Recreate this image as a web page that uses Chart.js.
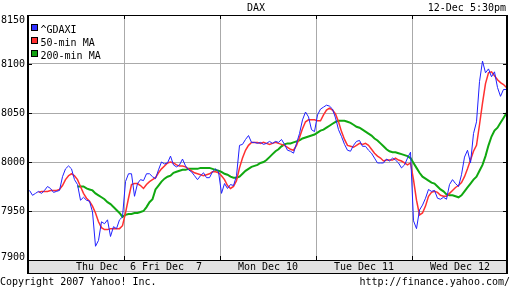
<!DOCTYPE html>
<html><head><meta charset="utf-8">
<script src="https://cdn.jsdelivr.net/npm/chart.js@4.4.0/dist/chart.umd.min.js"></script>
<style>html,body{margin:0;padding:0;background:#fff;}</style>
</head><body>
<canvas id="c" width="512" height="288"></canvas>
<script>
const chartTitle = 'DAX';
const stamp = '12-Dec 5:30pm';
const footLeft = 'Copyright 2007 Yahoo! Inc.';
const footRight = 'http://finance.yahoo.com/';
const seriesNames = ['^GDAXI', '50-min MA', '200-min MA'];
const dayLabels = ['Thu Dec  6', 'Fri Dec  7', 'Mon Dec 10', 'Tue Dec 11', 'Wed Dec 12'];
const dayLabelPos = [25.5, 47.5, 79.5, 111.5, 143.5];
const dayBreaks = [31.5, 63.5, 95.5, 127.5];
const yMin = 7900, yMax = 8150, yStep = 50;

const gdaxi = [
 7971,7966,7968,7970,7968,7971,7975,7973,7969,7970,7971,7985,7993,7996,7993,7982,7977,7961,7964,7961,7960,7949,7914,7920,7939,7937,7941,7924,7934,7932,7941,7944,
 7980,7988,7988,7965,7978,7982,7981,7988,7988,7985,7983,7992,8000,7998,7999,8006,7997,7995,7997,8003,7996,7992,7990,7986,7982,7986,7989,7984,7984,7990,7993,7990,
 7968,7978,7973,7977,7976,7986,8017,8018,8023,8027,8020,8020,8019,8020,8018,8019,8021,8019,8021,8020,8023,8018,8012,8011,8009,8019,8029,8043,8051,8046,8033,8031,
 8048,8054,8056,8058,8057,8054,8045,8033,8026,8018,8012,8011,8017,8021,8022,8016,8016,8012,8009,8004,7999,7999,7999,8003,8001,8004,8002,7999,7994,7997,8004,8010,
 7940,7932,7951,7956,7963,7972,7970,7971,7963,7962,7964,7962,7977,7982,7978,7975,7987,8005,8012,7999,8029,8041,8082,8103,8091,8095,8087,8092,8076,8067,8074,8074
];
const ma50 = [
 null,null,null,7969,7970,7970,7970,7971,7971,7971,7972,7976,7982,7986,7988,7986,7982,7975,7968,7963,7960,7955,7948,7939,7933,7931,7931,7932,7932,7932,7932,7935,
 7948,7963,7977,7978,7978,7976,7973,7977,7980,7982,7984,7989,7993,7996,7999,8000,7999,7997,7996,7996,7995,7993,7991,7989,7988,7987,7986,7987,7988,7990,7990,7989,
 7986,7982,7976,7973,7975,7981,7994,8004,8012,8017,8020,8020,8020,8019,8020,8019,8018,8019,8020,8019,8018,8017,8015,8013,8012,8017,8025,8034,8041,8043,8043,8043,
 8042,8042,8048,8053,8055,8053,8049,8041,8031,8023,8017,8016,8015,8017,8019,8018,8019,8017,8013,8009,8006,8004,8001,8002,8002,8002,8004,8002,8001,7999,7997,7999,
 7982,7961,7946,7948,7955,7965,7969,7970,7969,7966,7965,7965,7968,7971,7974,7976,7979,7985,7993,8002,8011,8017,8038,8060,8080,8091,8092,8088,8084,8081,8079,8076
];
const ma200 = [
 null,null,null,null,null,null,null,null,null,null,null,null,null,null,null,null,7975,7975,7975,7973,7972,7971,7968,7966,7964,7962,7959,7957,7954,7951,7948,7944,
 7946,7947,7947,7948,7948,7949,7950,7954,7959,7962,7972,7976,7980,7983,7985,7986,7989,7990,7991,7992,7992,7993,7993,7993,7993,7994,7994,7994,7994,7993,7992,7991,
 7990,7988,7987,7985,7984,7984,7985,7988,7991,7993,7995,7996,7997,7999,8000,8002,8005,8008,8011,8013,8016,8018,8019,8019,8020,8021,8022,8024,8025,8026,8027,8028,
 8030,8032,8033,8035,8037,8039,8041,8042,8042,8042,8041,8040,8038,8036,8035,8033,8031,8029,8027,8024,8022,8019,8016,8013,8011,8010,8010,8009,8008,8007,8006,8004,
 7999,7994,7989,7985,7983,7981,7979,7978,7975,7972,7970,7967,7966,7966,7965,7964,7966,7970,7974,7978,7982,7985,7991,7997,8006,8017,8026,8032,8035,8040,8045,8050
];

const lineColors = ['#2020ff', '#ff3030', '#10a810'];
const boxColors = ['#3030ff', '#ff3030', '#10a010'];
const FONT = '10px "DejaVu Sans Mono"';
const FAM = '"DejaVu Sans Mono"';

const toXY = arr => arr.map((v, i) => ({x: i, y: v}));

const framePlugin = {
  id: 'frame',
  beforeDraw(chart) {
    const {ctx, chartArea: a} = chart;
    ctx.save();
    ctx.fillStyle = '#e2e2e2';
    ctx.fillRect(a.left, a.bottom, a.right - a.left, 13);
    ctx.restore();
  },
  afterDraw(chart) {
    const {ctx, chartArea: a, scales} = chart;
    ctx.save();
    ctx.strokeStyle = '#000';
    ctx.lineWidth = 1;
    ctx.beginPath();
    scales.y.ticks.forEach(t => {
      const py = Math.round(scales.y.getPixelForValue(t.value)) + 0.5;
      ctx.moveTo(a.left, py); ctx.lineTo(a.left + 4, py);
      ctx.moveTo(a.right - 5, py); ctx.lineTo(a.right, py);
    });
    dayBreaks.forEach(v => {
      const px = Math.round(scales.x.getPixelForValue(v)) + 0.5;
      ctx.moveTo(px, a.top); ctx.lineTo(px, a.top + 4);
      ctx.moveTo(px, a.bottom - 4); ctx.lineTo(px, a.bottom);
    });
    ctx.stroke();
    ctx.beginPath();
    ctx.moveTo(a.left, a.top + 0.5); ctx.lineTo(a.right, a.top + 0.5);
    ctx.moveTo(a.left, a.bottom + 0.5); ctx.lineTo(a.right, a.bottom + 0.5);
    ctx.moveTo(a.left, a.bottom + 13.5); ctx.lineTo(a.right, a.bottom + 13.5);
    ctx.stroke();
    ctx.lineWidth = 2;
    ctx.beginPath();
    ctx.moveTo(a.left, a.top); ctx.lineTo(a.left, a.bottom + 14);
    ctx.moveTo(a.right - 1, a.top); ctx.lineTo(a.right - 1, a.bottom + 14);
    ctx.stroke();
    ctx.font = FONT;
    ctx.textAlign = 'left';
    ctx.textBaseline = 'alphabetic';
    chart.data.datasets.forEach((ds, i) => {
      const top = a.top + 9 + i * 13;
      ctx.fillStyle = boxColors[i];
      ctx.fillRect(a.left + 3, top, 7, 7);
      ctx.lineWidth = 1;
      ctx.strokeStyle = '#000';
      ctx.strokeRect(a.left + 3.5, top + 0.5, 6, 6);
      ctx.fillStyle = '#000';
      ctx.fillText(ds.label, a.left + 12.5, top + 8.5);
    });
    ctx.fillStyle = '#000';
    ctx.textAlign = 'center';
    ctx.fillText(chartTitle, 256, 11);
    ctx.textAlign = 'right';
    ctx.fillText(stamp, 506, 11);
    ctx.textAlign = 'left';
    ctx.fillText(footLeft, 0, 285);
    ctx.textAlign = 'right';
    ctx.fillText(footRight, 510, 285);
    ctx.restore();
  }
};

new Chart(document.getElementById('c'), {
  type: 'line',
  data: {
    datasets: [
      {label: seriesNames[0], data: toXY(gdaxi), borderColor: lineColors[0], borderWidth: 1},
      {label: seriesNames[1], data: toXY(ma50), borderColor: lineColors[1], borderWidth: 1.5},
      {label: seriesNames[2], data: toXY(ma200), borderColor: lineColors[2], borderWidth: 2}
    ]
  },
  options: {
    responsive: false,
    animation: false,
    events: [],
    devicePixelRatio: 1,
    elements: {point: {radius: 0}, line: {tension: 0, fill: false}},
    layout: {padding: {top: 15, right: 4, bottom: 14, left: 0}},
    plugins: {legend: {display: false}, tooltip: {enabled: false}, title: {display: false}},
    scales: {
      x: {
        type: 'linear', position: 'bottom', min: -0.5, max: 159.5,
        afterBuildTicks: s => { s.ticks = dayBreaks.map(v => ({value: v})); },
        ticks: {display: false},
        grid: {color: '#aaaaaa', lineWidth: 1, drawTicks: false},
        border: {display: false},
        afterFit: s => { s.height = 0; }
      },
      xl: {
        type: 'linear', axis: 'x', position: 'bottom', min: -0.5, max: 159.5,
        afterBuildTicks: s => { s.ticks = dayLabelPos.map(v => ({value: v})); },
        ticks: {
          callback: (v, i) => dayLabels[i],
          font: {family: FAM, size: 10}, color: '#000',
          maxRotation: 0, minRotation: 0, autoSkip: false, padding: 1
        },
        grid: {display: false, drawTicks: false},
        border: {display: false},
        afterFit: s => { s.height = 14; }
      },
      y: {
        type: 'linear', position: 'left', min: yMin, max: yMax,
        afterBuildTicks: s => {
          const t = [];
          for (let v = yMin; v <= yMax; v += yStep) t.push({value: v});
          s.ticks = t;
        },
        ticks: {
          padding: 3, color: '#000',
          callback: v => v === yMax ? ['', String(v)] : (v === yMin ? [String(v), ''] : String(v)),
          font: ctx => ({family: FAM, size: 10,
            lineHeight: ctx.tick && ctx.tick.value === yMax ? '10px' : (ctx.tick && ctx.tick.value === yMin ? '5px' : '12px')})
        },
        grid: {color: '#aaaaaa', lineWidth: 1, drawTicks: false},
        border: {display: false},
        afterFit: s => { s.width = 28; }
      }
    }
  },
  plugins: [framePlugin]
});
</script>
</body></html>
